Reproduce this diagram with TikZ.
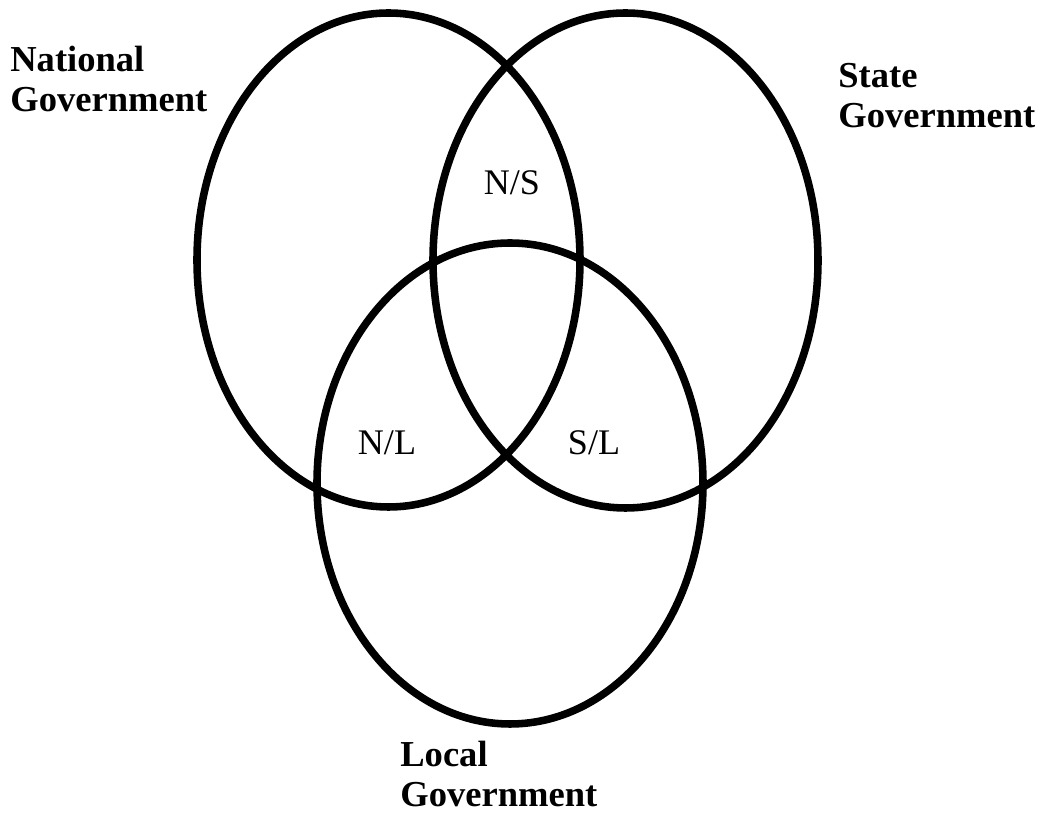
\documentclass[tikz,border=0pt]{standalone}
\usepackage{fontspec}
\setmainfont{Liberation Serif}
\usepackage{tikz}

\begin{document}
\begin{tikzpicture}[ ring/.style = {line width=4.3pt},
                     level name/.style = {font=\fontsize{20.8}{23.2}\selectfont\bfseries,
                       align=left, inner sep=0pt, anchor=base west},
                     overlap/.style = {font=\fontsize{20.5}{23}\selectfont,
                       inner sep=0pt, anchor=base}]
  \useasboundingbox (0,0) rectangle (20.86,16.28);
  % the three circles
  \draw[ring] (7.77,11.08) ellipse [x radius=3.83, y radius=4.94];
  \draw[ring] (12.51,11.07) ellipse [x radius=3.85, y radius=4.95];
  \draw[ring] (10.20,6.61) ellipse [x radius=3.86, y radius=4.81];
  % names
  \node[level name] (national) at (0.2,14.04) {National\\Government};
  \node[level name] (state) at (16.76,13.72) {State\\Government};
  \node[level name] (local) at (8.0,0.14) {Local\\Government};
  % overlaps
  \node[overlap] (ns) at (10.24,12.38) {N/S};
  \node[overlap] (nl) at (7.74,7.18) {N/L};
  \node[overlap] (sl) at (11.88,7.18) {S/L};
\end{tikzpicture}
\end{document}
